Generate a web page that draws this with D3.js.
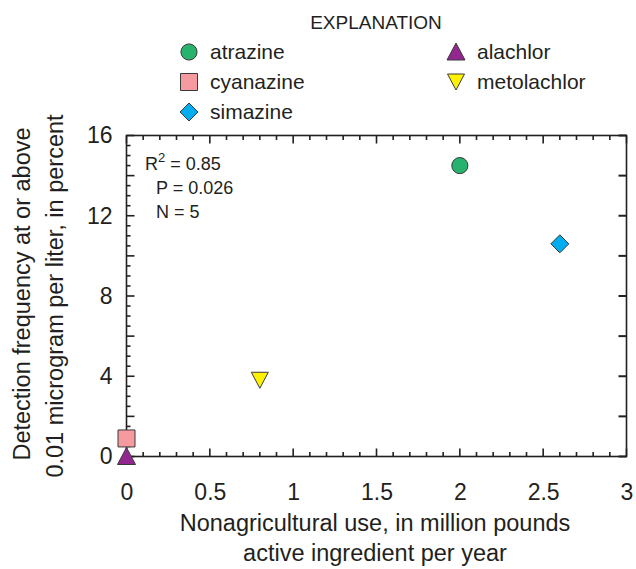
<!DOCTYPE html>
<html>
<head>
<meta charset="utf-8">
<script src="https://cdn.jsdelivr.net/npm/d3@7"></script>
<style>
body{margin:0;background:#fff;}
text{font-family:"Liberation Sans",Arial,sans-serif;fill:#231f20;}
</style>
</head>
<body>
<div class="box"></div>
<script>
// data
const herbicides=['atrazine','cyanazine','simazine','alachlor','metolachlor'];
const useMillionLb=[2.0,0,2.6,0,0.8];
const detectPct=[14.5,0.9,10.6,0,3.8];
const xTicks=[0,0.5,1,1.5,2,2.5,3];
const yTicks=[0,4,8,12,16];
const statsLines=['= 0.85','P = 0.026','N = 5'];

const colors={atrazine:'#27b36d',cyanazine:'#f59a9f',simazine:'#00aeef',alachlor:'#92278f',metolachlor:'#fff200'};
const shapes={atrazine:'circle',cyanazine:'square',simazine:'diamond',alachlor:'up',metolachlor:'down'};

const W=636,H=569;
const svg=d3.select('.box').append('svg').attr('width',W).attr('height',H).style('background','white');
const margin={top:135.5,left:126.5};
const graphW=500;
const graphH=321;
const g=svg.append('g').attr('transform',`translate(${margin.left},${margin.top})`);

const x=d3.scaleLinear().domain([0,3]).range([0,graphW]);
const y=d3.scaleLinear().domain([0,16]).range([graphH,0]);

const ink='#231f20';

// ticks (drawn by hand: inward, several lengths)
const near=(v,s)=>Math.abs(v/s-Math.round(v/s))<1e-6;
const xt=d3.range(0,31).map(i=>i/10);
const yl=d3.range(0,33).map(i=>i/2);
const yr=d3.range(0,9).map(i=>i*2);
const tk=g.append('g');
const tline=(x1,y1,x2,y2,w)=>tk.append('line').attr('x1',x1).attr('y1',y1).attr('x2',x2).attr('y2',y2)
  .style('stroke',ink).style('stroke-width',w||1.6);
xt.forEach(v=>{
  const L=near(v,0.5)?8:4.5;
  tline(x(v),graphH,x(v),graphH-L);
  tline(x(v),0,x(v),L);
});
yl.forEach(v=>{
  const L=near(v,2)?8:4;
  tline(0,y(v),L,y(v));
});
yr.forEach(v=>{
  tline(graphW,y(v),graphW-8,y(v),2);
});

// tick labels
const gX=g.append('g').attr('transform',`translate(0,${graphH})`)
  .call(d3.axisBottom(x).tickValues(xTicks).tickSize(0).tickPadding(27).tickFormat(d=>d));
const gY=g.append('g')
  .call(d3.axisLeft(y).tickValues(yTicks).tickSize(0).tickPadding(14).tickFormat(d=>d));
[gX,gY].forEach(a=>{a.select('.domain').remove();a.selectAll('text').style('font-size','23px').attr('fill',ink);});

// frame
g.append('rect').attr('width',graphW).attr('height',graphH).attr('fill','none').attr('stroke',ink).attr('stroke-width',1.6);

// symbols
const symPath=(s)=>{
  switch(s){
    case 'circle':return d3.symbol(d3.symbolCircle,205)();
    case 'square':return 'M-8.5,-8.5H8.5V8.5H-8.5Z';
    case 'diamond':return 'M0,-9L9,0L0,9L-9,0Z';
    case 'up':return 'M0,-9L9,8L-9,8Z';
    case 'down':return 'M0,8L8.5,-8L-8.5,-8Z';
  }
};

const pts=herbicides.map((h,i)=>({name:h,x:useMillionLb[i],y:detectPct[i]}));
g.selectAll('path.pt').data(pts).enter().append('path')
  .attr('class','pt')
  .attr('d',d=>symPath(shapes[d.name]))
  .attr('transform',d=>`translate(${x(d.x)},${y(d.y)})`)
  .attr('fill',d=>colors[d.name])
  .attr('stroke','#3a3a3a').attr('stroke-width',1);

// stats
const st=g.append('g').style('font-size','18px');
const r2=st.append('text').attr('x',145-margin.left).attr('y',170-margin.top);
r2.append('tspan').text('R');
r2.append('tspan').attr('dy',-8).style('font-size','13px').text('2');
r2.append('tspan').attr('dy',8).text(' '+statsLines[0]);
statsLines.slice(1).forEach((t,i)=>{
  st.append('text').attr('x',156-margin.left).attr('y',194+i*23.5-margin.top).text(t);
});

// legend
svg.append('text').attr('x',376).attr('y',29).attr('text-anchor','middle').style('font-size','19px').text('EXPLANATION');
const legPos={atrazine:[189,52],cyanazine:[189,82],simazine:[189,112],alachlor:[456,52],metolachlor:[456,82]};
herbicides.forEach(h=>{
  const [lx,ly]=legPos[h];
  svg.append('path').attr('d',symPath(shapes[h])).attr('transform',`translate(${lx},${ly})`)
    .attr('fill',colors[h]).attr('stroke','#3a3a3a').attr('stroke-width',1);
  svg.append('text').attr('x',lx+21).attr('y',ly+6.5).style('font-size','21px').text(h);
});

// axis titles
svg.append('text').attr('x',375).attr('y',531).attr('text-anchor','middle').style('font-size','23.5px').text('Nonagricultural use, in million pounds');
svg.append('text').attr('x',375).attr('y',561).attr('text-anchor','middle').style('font-size','23.5px').text('active ingredient per year');
svg.append('text').attr('transform','translate(30,294) rotate(-90)').attr('text-anchor','middle').style('font-size','23.5px').text('Detection frequency at or above');
svg.append('text').attr('transform','translate(63,296) rotate(-90)').attr('text-anchor','middle').style('font-size','23.5px').text('0.01 microgram per liter, in percent');
</script>
</body>
</html>
